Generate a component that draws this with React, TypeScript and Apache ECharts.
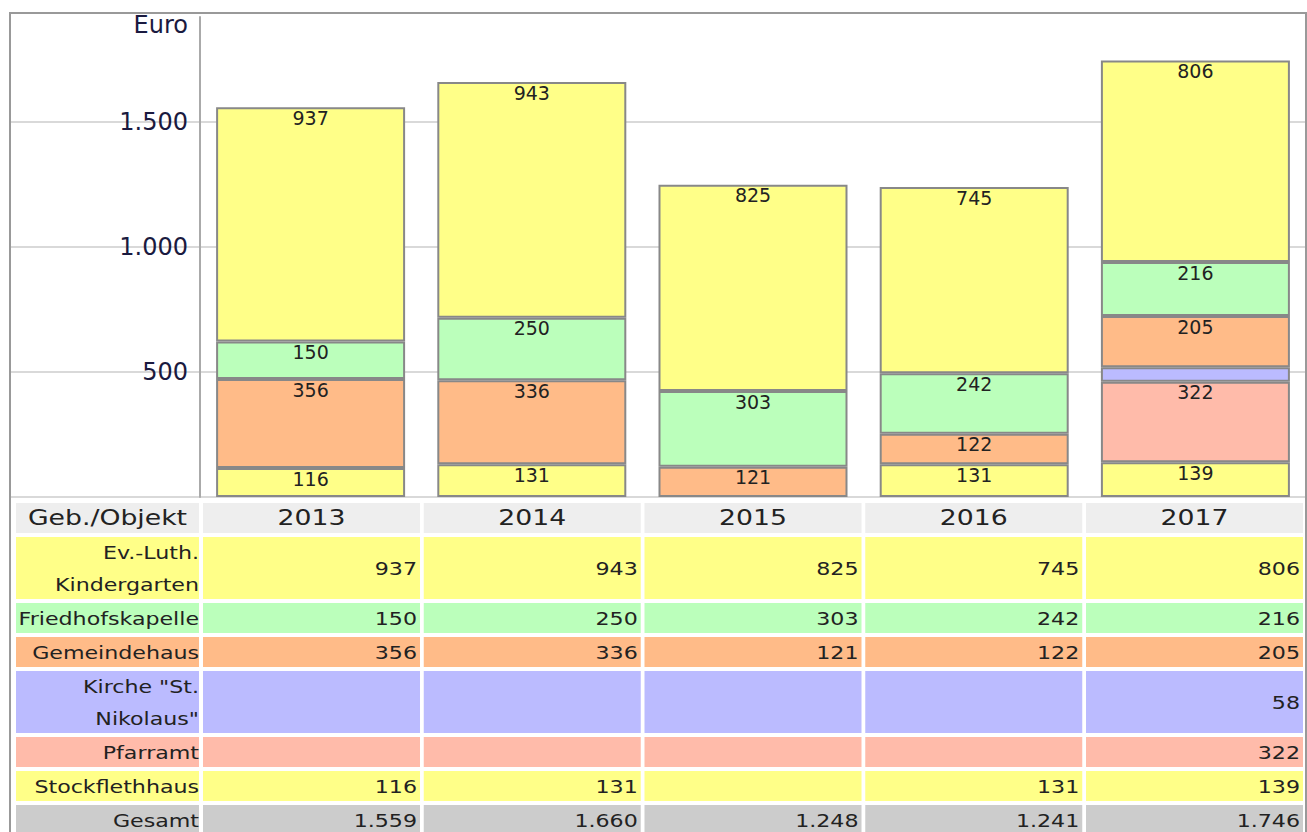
import React, { useEffect, useRef } from "react";
import * as echarts from "echarts";

const years = ["2013", "2014", "2015", "2016", "2017"];
const kindergarten = [937, 943, 825, 745, 806];
const friedhofskapelle = [150, 250, 303, 242, 216];
const gemeindehaus = [356, 336, 121, 122, 205];
const kirche: (number | null)[] = [null, null, null, null, 58];
const pfarramt: (number | null)[] = [null, null, null, null, 322];
const stockflethhaus: (number | null)[] = [116, 131, null, 131, 139];
const gesamt = [1559, 1660, 1248, 1241, 1746];

const headerLabel = "Geb./Objekt";
const totalLabel = "Gesamt";
const axisName = "Euro";

const FONT = '"DejaVu Sans", Verdana, sans-serif';

const fmt = (v: number) => {
  const s = String(Math.round(v));
  return s.replace(/\B(?=(\d{3})+(?!\d))/g, ".");
};

export default function App() {
  const ref = useRef<HTMLDivElement>(null);
  useEffect(() => {
    if (!ref.current) return;
    const chart = echarts.init(ref.current, null, { renderer: "svg" });

    // stacking order: bottom to top
    const stackDefs = [
      { name: "Stockflethhaus", data: stockflethhaus, color: "#ffff88", label: true },
      { name: "Pfarramt", data: pfarramt, color: "#ffbbaa", label: true },
      { name: 'Kirche "St. Nikolaus"', data: kirche, color: "#bbbbff", label: false },
      { name: "Gemeindehaus", data: gemeindehaus, color: "#ffbb88", label: true },
      { name: "Friedhofskapelle", data: friedhofskapelle, color: "#bbffbb", label: true },
      { name: "Ev.-Luth. Kindergarten", data: kindergarten, color: "#ffff88", label: true },
    ];

    // table rows: top to bottom
    const tableRows = [
      { label: "Ev.-Luth.\nKindergarten", data: kindergarten, color: "#ffff88" },
      { label: "Friedhofskapelle", data: friedhofskapelle, color: "#bbffbb" },
      { label: "Gemeindehaus", data: gemeindehaus, color: "#ffbb88" },
      { label: 'Kirche "St.\nNikolaus"', data: kirche, color: "#bbbbff" },
      { label: "Pfarramt", data: pfarramt, color: "#ffbbaa" },
      { label: "Stockflethhaus", data: stockflethhaus, color: "#ffff88" },
      { label: totalLabel, data: gesamt, color: "#cccccc" },
    ];

    const graphics: any[] = [];
    const col0X = 16, col0W = 183;
    const colX0 = 203, colStep = 220.75, colW = 217;
    const gap = 4;
    const textColor = "#222";
    const bodyFont = 18, bodyScale = 1.23;
    const headFont = 21, headScale = 1.27;

    const addText = (text: string, x: number, y: number, align: string, size: number, sx: number) => {
      graphics.push({
        type: "text",
        x, y, scaleX: sx, scaleY: 1, z: 20,
        style: {
          text, x: 0, y: 0, fill: textColor,
          fontSize: size, fontFamily: FONT,
          align, verticalAlign: "middle",
          textAlign: align, textVerticalAlign: "middle",
          lineHeight: 32,
        },
      });
    };
    const addRect = (x: number, y: number, w: number, h: number, fill: string) => {
      graphics.push({ type: "rect", z: 10, shape: { x, y, width: w, height: h }, style: { fill } });
    };

    let y = 503;
    const headH = 30;
    addRect(col0X, y, col0W, headH, "#eeeeee");
    addText(headerLabel, col0X + col0W / 2, y + headH / 2, "center", headFont, headScale);
    years.forEach((yr, i) => {
      const x = colX0 + i * colStep;
      addRect(x, y, colW, headH, "#eeeeee");
      addText(yr, x + colW / 2, y + headH / 2, "center", headFont, headScale);
    });
    y += headH + gap;

    tableRows.forEach((r) => {
      const lines = r.label.split("\n").length;
      const h = lines > 1 ? 62 : 30;
      addRect(col0X, y, col0W, h, r.color);
      addText(r.label, col0X + col0W, y + h / 2 + 1, "right", bodyFont, bodyScale);
      years.forEach((_, i) => {
        const x = colX0 + i * colStep;
        addRect(x, y, colW, h, r.color);
        const v = r.data[i];
        if (v != null) addText(fmt(v as number), x + colW - 3, y + h / 2 + 1, "right", bodyFont, bodyScale);
      });
      y += h + gap;
    });

    // outer frame
    graphics.push({
      type: "rect", z: 30,
      shape: { x: 10, y: 13, width: 1296, height: 900 },
      style: { fill: "none", stroke: "#999999", lineWidth: 2 },
    });

    chart.setOption({
      animation: false,
      backgroundColor: "#ffffff",
      textStyle: { fontFamily: FONT },
      grid: [
        { left: 200, top: 17, width: 1106, height: 480 },
        { left: 10, top: 17, width: 1296, height: 480 },
      ],
      xAxis: [
        {
          type: "category", gridIndex: 0, data: years,
          axisLabel: { show: false }, axisTick: { show: false }, axisLine: { show: false },
        },
        { type: "value", gridIndex: 1, min: 0, max: 1, show: false },
      ],
      yAxis: [
        {
          type: "value", gridIndex: 0, min: 0, max: 1920, interval: 500,
          name: axisName, nameLocation: "end", nameGap: -8,
          nameTextStyle: {
            align: "right", verticalAlign: "middle", fontSize: 24,
            color: "#1a1a40", fontFamily: FONT, padding: [0, 12, 0, 0],
          },
          axisLine: { show: true, lineStyle: { color: "#aaaaaa", width: 2 } },
          axisTick: { show: false },
          splitLine: { show: false },
          axisLabel: {
            fontSize: 24, color: "#1a1a40", fontFamily: FONT, margin: 12,
            showMinLabel: false, showMaxLabel: false,
            formatter: (v: number) => fmt(v),
          },
        },
        {
          type: "value", gridIndex: 1, min: 0, max: 1920, interval: 500,
          axisLine: { show: false }, axisTick: { show: false }, axisLabel: { show: false },
          splitLine: { show: true, showMaxLine: false, lineStyle: { color: "#cccccc", width: 1.5 } },
        },
      ],
      series: stackDefs.map((s) => ({
        type: "bar",
        name: s.name,
        stack: "total",
        xAxisIndex: 0,
        yAxisIndex: 0,
        barWidth: 189,
        data: s.data,
        itemStyle: { color: s.color, borderColor: "#888888", borderWidth: 2 },
        label: {
          show: s.label,
          position: "insideTop",
          distance: 1,
          fontSize: 19,
          color: "#222222",
          fontFamily: FONT,
        },
      })),
      graphic: graphics,
    });
    return () => chart.dispose();
  }, []);
  return (
    <div
      ref={ref}
      style={{ position: "fixed", left: 0, top: 0, width: 1307, height: 832 }}
    />
  );
}
